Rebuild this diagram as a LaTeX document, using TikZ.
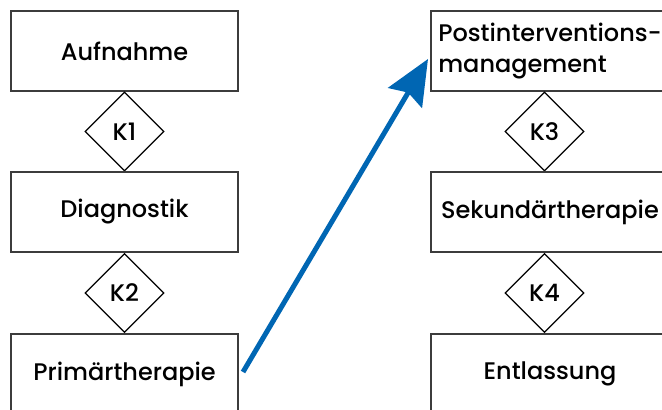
\documentclass[tikz,border=0pt]{standalone}
\usepackage{fontspec}
\setmainfont{Poppins}[UprightFont=* Medium]
\usetikzlibrary{shapes.geometric,arrows.meta}
\definecolor{pathblue}{RGB}{0,102,179}
\definecolor{framegray}{RGB}{60,60,60}

\begin{document}
\begin{tikzpicture}[x=0.5pt, y=-0.5pt,
	phase/.style={draw=framegray, line width=1pt, minimum width=113.5pt, minimum height=40pt, inner sep=0pt, font=\fontsize{12}{15.5}\selectfont},
	phasewide/.style={phase, minimum width=119pt},
	check/.style={diamond, draw=black, line width=0.6pt, minimum width=39.5pt, minimum height=39.5pt, inner sep=0pt, font=\fontsize{12}{14}\selectfont}]

				\useasboundingbox (0,0) rectangle (662,410);
				\clip (0,0) rectangle (662,410);

				% linke Spalte
				\node[phase] (aufnahme) at (124.5,51) {Aufnahme};
				\node[check] (k1) at (124.5,131.5) {K1};
				\node[phase] (diagnostik) at (124.5,212) {Diagnostik};
				\node[check] (k2) at (124.5,293) {K2};
				\node[phase] (primaer) at (124.5,374) {Primärtherapie};

				% rechte Spalte
				\node[phasewide, align=left] (post) at (550,51) {Postinterventions-\\management};
				\node[check] (k3) at (544.5,131.5) {K3};
				\node[phasewide] (sekundaer) at (550,212) {Sekundärtherapie};
				\node[check] (k4) at (544.5,293) {K4};
				\node[phasewide] (entlassung) at (550,374) {Entlassung};

				\draw[pathblue, line width=2.5pt, -{Stealth[length=22.5pt, width=19.5pt, inset=3pt]}]
					([xshift=2pt, yshift=1pt]primaer.east) -- ([xshift=-1pt, yshift=-4pt]post.west);

\end{tikzpicture}
\end{document}
